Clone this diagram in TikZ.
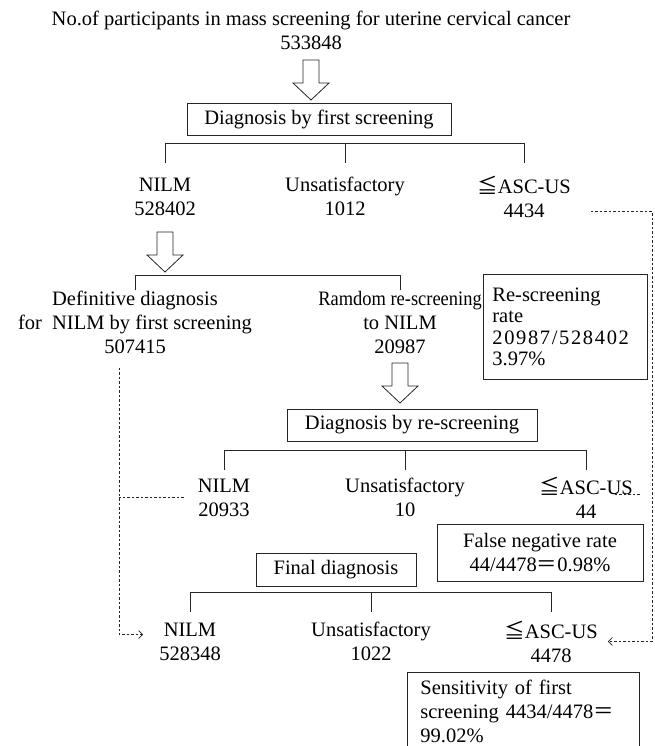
\documentclass[tikz,border=0pt]{standalone}
\usepackage{fontspec}
\setmainfont{Liberation Serif}
\newfontfamily\cjk{Noto Sans CJK JP}
\usetikzlibrary{calc,arrows.meta}
\begin{document}
\begin{tikzpicture}[
	x=1pt, y=-1pt,
	txt/.style={ align=center, inner sep=2pt, font=\fontsize{20.5}{24}\selectfont },
	box/.style={ txt, draw=black!85, line width=0.8pt },
	ratebox/.style={ box, align=left, anchor=north west },
	link/.style={ black!85, line width=0.8pt },
	dots/.style={ black!85, line width=0.7pt, dash pattern=on 2.5pt off 2pt },
	barb/.style={ -{Straight Barb[length=4pt,width=8pt]} },
	hollow/.pic={ \draw[link] (-8,0) -- (8,0) -- (8,23) -- (18,23) -- (0,40) -- (-18,23) -- (-8,23) -- cycle; }
]
\useasboundingbox (0,0) rectangle (655,746);

% first screening
\node at (311,30.5) (top) [txt] {No.of participants in mass screening for uterine cervical cancer\\533848};
\pic at (311,60) {hollow};
\node at (319,119) (first) [box, minimum width=264pt, minimum height=32pt] {Diagnosis by first screening};
\node at (165,196.5) (n1) [txt] {NILM\\528402};
\node at (345,196.5) (u1) [txt] {Unsatisfactory\\1012};
\node at (524,196.5) (a1) [txt] {{\cjk ≦}ASC-US\\4434};
\coordinate (bar1) at (0,143);
\coordinate (drop1) at (0,163);
\draw[link] (n1 |- drop1) -- (n1 |- bar1) -- (a1 |- bar1) -- (a1 |- drop1);
\draw[link] (u1 |- bar1) -- (u1 |- drop1);

% split of NILM
\pic at (165,232) {hollow};
\node at (135,322) (def) [txt] {Definitive diagnosis\\for\ \ NILM by first screening\\507415};
\node at (400,322) (ran) [txt] {{\addfontfeature{FakeStretch=0.9}Ramdom re-screening}\\to NILM\\20987};
\coordinate (bar2) at (0,275);
\coordinate (drop2) at (0,290);
\draw[link] (def |- drop2) -- (def |- bar2) -- (ran |- bar2) -- (ran |- drop2);
\node at (483,274) (rate) [ratebox, text width=146pt, inner xsep=9pt, minimum height=105pt, font=\fontsize{20.5}{21.5}\selectfont] {Re-screening\\rate\\{\addfontfeature{LetterSpace=8}20987/528402}\\3.97\%};

% re-screening
\pic at (400,363) {hollow};
\node at (412,425) (re) [box, minimum width=250pt, minimum height=32pt] {Diagnosis by re-screening};
\node at (224,497.5) (n2) [txt] {NILM\\20933};
\node at (405,497.5) (u2) [txt] {Unsatisfactory\\10};
\node at (586,497.5) (a2) [txt] {{\cjk ≦}ASC-US\\44};
\coordinate (bar3) at (0,450);
\coordinate (drop3) at (0,470);
\draw[link] (n2 |- drop3) -- (n2 |- bar3) -- (a2 |- bar3) -- (a2 |- drop3);
\draw[link] (u2 |- bar3) -- (u2 |- drop3);
\node at (540,552.5) (fn) [box, minimum width=206pt, minimum height=57pt] {False negative rate\\44/4478{\cjk ＝}0.98\%};

% final
\node at (336,569.5) (fin) [box, minimum width=160pt, minimum height=33pt] {Final diagnosis};
\node at (190,641.5) (n3) [txt] {NILM\\528348};
\node at (371,641.5) (u3) [txt] {Unsatisfactory\\1022};
\node at (551,641.5) (a3) [txt] {{\cjk ≦}ASC-US\\4478};
\coordinate (bar4) at (0,592);
\coordinate (drop4) at (0,612);
\draw[link] (n3 |- drop4) -- (n3 |- bar4) -- (a3 |- bar4) -- (a3 |- drop4);
\draw[link] (u3 |- bar4) -- (u3 |- drop4);
\node at (407,672) (sens) [ratebox, text width=206pt, inner xsep=13pt, inner ysep=8pt] {Sensitivity of first\\screening 4434/4478{\cjk ＝}\\99.02\%};

% dotted links
\coordinate (lx) at (119,0);
\coordinate (rx) at (652,0);
\coordinate (rgap) at (640,494);
\draw[dots,barb] ($(def.south)+(-16,12)$) |- ($(n3.west)+(-14,-7)$);
\draw[dots] ($(n2.west)+(-12,0)$) -- (lx |- n2.west);
\draw[dots,barb] ($(a1.east)+(18,15)$) -| (rx |- a3) -- ($(a3.east)+(8,0)$);
\draw[dots] ($(a2.east)+(-20,-3.5)$) -- (rgap);

\end{tikzpicture}
\end{document}
